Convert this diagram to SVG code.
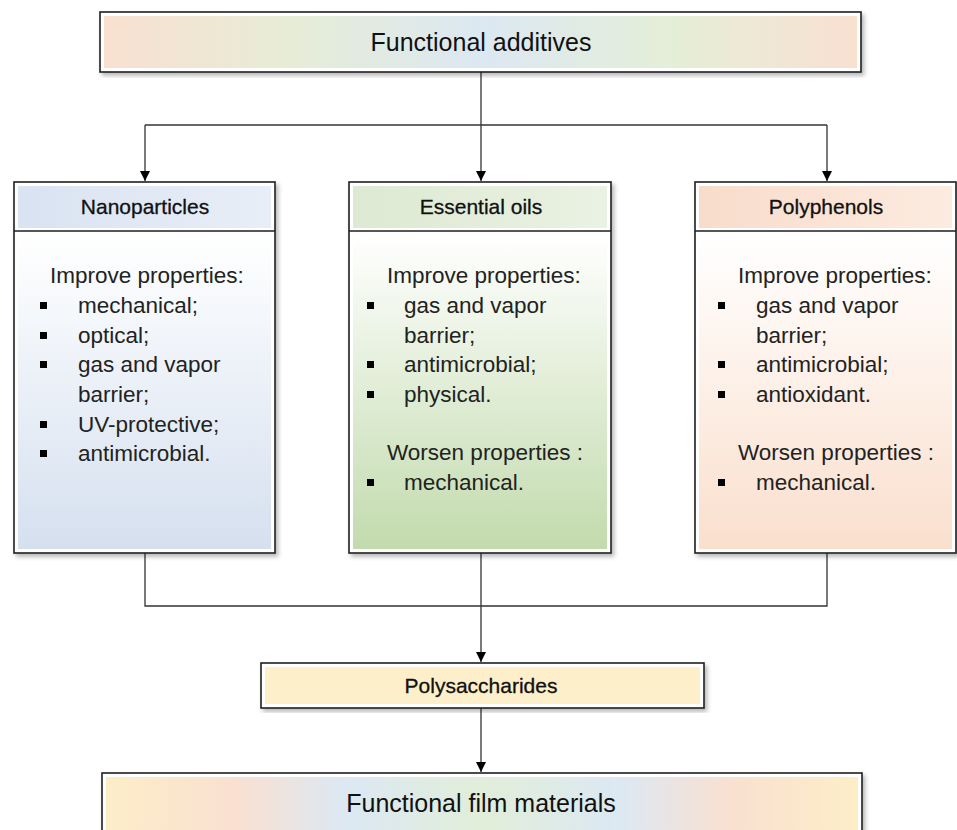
<svg xmlns="http://www.w3.org/2000/svg" width="957" height="830" viewBox="0 0 957 830">
<defs>
  <style>
    .frame { fill: #ffffff; stroke: #1e1e1e; stroke-width: 1.6; }
    .sep { stroke: #1e1e1e; stroke-width: 1.6; }
    .conn { fill: none; stroke: #333333; stroke-width: 1.3; }
    .title { font-family: "Liberation Sans", Arial, sans-serif; font-size: 25px; fill: #111111; text-anchor: middle; }
    .head { font-family: "Liberation Sans", Arial, sans-serif; font-size: 21px; fill: #111111; text-anchor: middle; stroke: #111111; stroke-width: 0.3; }
    .body { font-family: "Liberation Sans", Arial, sans-serif; font-size: 22.5px; fill: #222222; }
    .bul { fill: #000000; }
  </style>
  <filter id="shadow" x="-5%" y="-5%" width="115%" height="115%">
    <feDropShadow dx="2.5" dy="3" stdDeviation="2" flood-color="#000000" flood-opacity="0.28"/>
  </filter>
  <marker id="arrow" viewBox="0 0 10 10" refX="10" refY="5" markerWidth="10" markerHeight="10" markerUnits="userSpaceOnUse" orient="auto">
    <path d="M0,0 L10,5 L0,10 z" fill="#000000"/>
  </marker>
  <linearGradient id="gTop" x1="0" y1="0" x2="1" y2="0">
    <stop offset="0" stop-color="#f9e0d1"/>
    <stop offset="0.25" stop-color="#e6ecd6"/>
    <stop offset="0.5" stop-color="#dce8f2"/>
    <stop offset="0.75" stop-color="#e4eed8"/>
    <stop offset="1" stop-color="#f9e0d1"/>
  </linearGradient>
  <linearGradient id="gBot" x1="0" y1="0" x2="1" y2="0">
    <stop offset="0" stop-color="#fdedc8"/>
    <stop offset="0.17" stop-color="#f9e0d1"/>
    <stop offset="0.32" stop-color="#dce8f3"/>
    <stop offset="0.5" stop-color="#e1eed9"/>
    <stop offset="0.68" stop-color="#dce8f3"/>
    <stop offset="0.83" stop-color="#f9e0d1"/>
    <stop offset="1" stop-color="#fdedc8"/>
  </linearGradient>
  <linearGradient id="gNanoH" x1="0" y1="0" x2="1" y2="0">
    <stop offset="0" stop-color="#d9e3f1"/>
    <stop offset="1" stop-color="#e8eef7"/>
  </linearGradient>
  <linearGradient id="gNanoB" x1="0" y1="0" x2="0" y2="1">
    <stop offset="0" stop-color="#ffffff"/>
    <stop offset="1" stop-color="#d5e0ef"/>
  </linearGradient>
  <linearGradient id="gOilH" x1="0" y1="0" x2="1" y2="0">
    <stop offset="0" stop-color="#dde9d2"/>
    <stop offset="1" stop-color="#eaf2e3"/>
  </linearGradient>
  <linearGradient id="gOilB" x1="0" y1="0" x2="0" y2="1">
    <stop offset="0" stop-color="#ffffff"/>
    <stop offset="1" stop-color="#c2dbad"/>
  </linearGradient>
  <linearGradient id="gPolyH" x1="0" y1="0" x2="1" y2="0">
    <stop offset="0" stop-color="#f8dccb"/>
    <stop offset="1" stop-color="#fcebe0"/>
  </linearGradient>
  <linearGradient id="gPolyB" x1="0" y1="0" x2="0" y2="1">
    <stop offset="0" stop-color="#ffffff"/>
    <stop offset="1" stop-color="#fadfcd"/>
  </linearGradient>
</defs>

<rect width="957" height="830" fill="#ffffff"/>

<g id="connectors">
  <path class="conn" d="M481,72 V125"/>
  <path class="conn" d="M145,125 H827"/>
  <path class="conn" d="M145,125 V181" marker-end="url(#arrow)"/>
  <path class="conn" d="M481,125 V181" marker-end="url(#arrow)"/>
  <path class="conn" d="M827,125 V181" marker-end="url(#arrow)"/>
  <path class="conn" d="M145,553 V606 H827 V553"/>
  <path class="conn" d="M481,553 V662" marker-end="url(#arrow)"/>
  <path class="conn" d="M481,708 V772" marker-end="url(#arrow)"/>
</g>

<g id="functional-additives">
  <rect class="frame" x="100" y="12" width="761" height="60" filter="url(#shadow)"/>
  <rect x="104" y="16" width="753" height="52" fill="url(#gTop)"/>
  <text class="title" x="481" y="51">Functional additives</text>
</g>

<g id="nanoparticles">
  <rect class="frame" x="14" y="182" width="261" height="371" filter="url(#shadow)"/>
  <rect x="18" y="186" width="253" height="42" fill="url(#gNanoH)"/>
  <line class="sep" x1="14" y1="231" x2="275" y2="231"/>
  <rect x="18" y="235" width="253" height="314" fill="url(#gNanoB)"/>
  <text class="head" x="145" y="214">Nanoparticles</text>
  <text class="body" x="50" y="283">Improve properties:</text>
  <rect class="bul" x="40" y="302" width="7" height="7"/>
  <text class="body" x="78" y="313">mechanical;</text>
  <rect class="bul" x="40" y="332" width="7" height="7"/>
  <text class="body" x="78" y="343">optical;</text>
  <rect class="bul" x="40" y="361" width="7" height="7"/>
  <text class="body" x="78" y="372">gas and vapor</text>
  <text class="body" x="78" y="402">barrier;</text>
  <rect class="bul" x="40" y="421" width="7" height="7"/>
  <text class="body" x="78" y="432">UV-protective;</text>
  <rect class="bul" x="40" y="450" width="7" height="7"/>
  <text class="body" x="78" y="461">antimicrobial.</text>
</g>

<g id="essential-oils">
  <rect class="frame" x="349" y="182" width="262" height="371" filter="url(#shadow)"/>
  <rect x="353" y="186" width="254" height="42" fill="url(#gOilH)"/>
  <line class="sep" x1="349" y1="231" x2="611" y2="231"/>
  <rect x="353" y="235" width="254" height="314" fill="url(#gOilB)"/>
  <text class="head" x="481" y="214">Essential oils</text>
  <text class="body" x="387" y="283">Improve properties:</text>
  <rect class="bul" x="367" y="302" width="7" height="7"/>
  <text class="body" x="404" y="313">gas and vapor</text>
  <text class="body" x="404" y="343">barrier;</text>
  <rect class="bul" x="367" y="361" width="7" height="7"/>
  <text class="body" x="404" y="372">antimicrobial;</text>
  <rect class="bul" x="367" y="391" width="7" height="7"/>
  <text class="body" x="404" y="402">physical.</text>
  <text class="body" x="387" y="460">Worsen properties :</text>
  <rect class="bul" x="367" y="479" width="7" height="7"/>
  <text class="body" x="404" y="490">mechanical.</text>
</g>

<g id="polyphenols">
  <rect class="frame" x="695" y="182" width="261" height="371" filter="url(#shadow)"/>
  <rect x="699" y="186" width="253" height="42" fill="url(#gPolyH)"/>
  <line class="sep" x1="695" y1="231" x2="956" y2="231"/>
  <rect x="699" y="235" width="253" height="314" fill="url(#gPolyB)"/>
  <text class="head" x="826" y="214">Polyphenols</text>
  <text class="body" x="738" y="283">Improve properties:</text>
  <rect class="bul" x="718" y="302" width="7" height="7"/>
  <text class="body" x="756" y="313">gas and vapor</text>
  <text class="body" x="756" y="343">barrier;</text>
  <rect class="bul" x="718" y="361" width="7" height="7"/>
  <text class="body" x="756" y="372">antimicrobial;</text>
  <rect class="bul" x="718" y="391" width="7" height="7"/>
  <text class="body" x="756" y="402">antioxidant.</text>
  <text class="body" x="738" y="460">Worsen properties :</text>
  <rect class="bul" x="718" y="479" width="7" height="7"/>
  <text class="body" x="756" y="490">mechanical.</text>
</g>

<g id="polysaccharides">
  <rect class="frame" x="261" y="663" width="443" height="45" filter="url(#shadow)"/>
  <rect x="265" y="667" width="435" height="37" fill="#fdefca"/>
  <text class="head" x="481" y="693">Polysaccharides</text>
</g>

<g id="functional-film-materials">
  <rect class="frame" x="102" y="773" width="760" height="70" filter="url(#shadow)"/>
  <rect x="106" y="777" width="752" height="60" fill="url(#gBot)"/>
  <text class="title" x="481" y="812">Functional film materials</text>
</g>
</svg>
